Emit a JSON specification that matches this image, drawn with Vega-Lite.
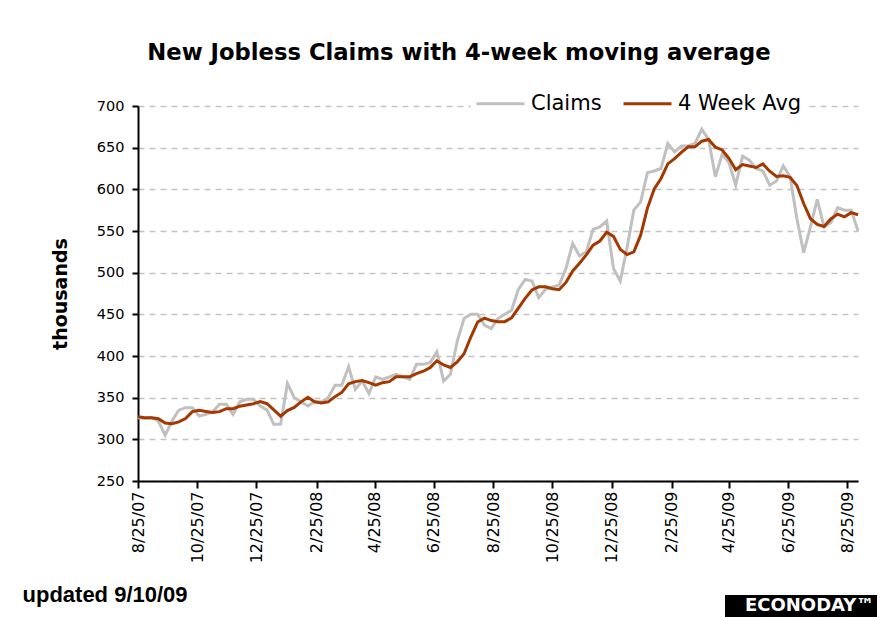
{
  "$schema": "https://vega.github.io/schema/vega-lite/v6.json",
  "width": 720,
  "height": 375,
  "autosize": {"type": "none"},
  "padding": {"left": 138, "top": 106, "right": 37, "bottom": 136},
  "background": "white",
  "title": {"text": "New Jobless Claims with 4-week moving average", "font": "DejaVu Sans", "fontSize": 22.7, "fontWeight": "bold", "color": "#000000", "anchor": "middle", "frame": "group", "dx": -39, "offset": 9},
  "data": {"values": [
    {"week": "2007-08-25", "claims": 326, "avg": 327},
    {"week": "2007-09-01", "claims": 325, "avg": 326},
    {"week": "2007-09-08", "claims": 326, "avg": 326},
    {"week": "2007-09-15", "claims": 322, "avg": 324.75},
    {"week": "2007-09-22", "claims": 305, "avg": 319.5},
    {"week": "2007-09-29", "claims": 322, "avg": 318.75},
    {"week": "2007-10-06", "claims": 335, "avg": 321},
    {"week": "2007-10-13", "claims": 338, "avg": 325},
    {"week": "2007-10-20", "claims": 338, "avg": 333.25},
    {"week": "2007-10-27", "claims": 328, "avg": 334.75},
    {"week": "2007-11-03", "claims": 330, "avg": 333.5},
    {"week": "2007-11-10", "claims": 333, "avg": 332.25},
    {"week": "2007-11-17", "claims": 342, "avg": 333.25},
    {"week": "2007-11-24", "claims": 342, "avg": 336.75},
    {"week": "2007-12-01", "claims": 330, "avg": 336.75},
    {"week": "2007-12-08", "claims": 345, "avg": 339.75},
    {"week": "2007-12-15", "claims": 348, "avg": 341.25},
    {"week": "2007-12-22", "claims": 348, "avg": 342.75},
    {"week": "2007-12-29", "claims": 340, "avg": 345.25},
    {"week": "2008-01-05", "claims": 335, "avg": 342.75},
    {"week": "2008-01-12", "claims": 318, "avg": 335.25},
    {"week": "2008-01-19", "claims": 318, "avg": 327.75},
    {"week": "2008-01-26", "claims": 367, "avg": 334.5},
    {"week": "2008-02-02", "claims": 350, "avg": 338.25},
    {"week": "2008-02-09", "claims": 345, "avg": 345},
    {"week": "2008-02-16", "claims": 340, "avg": 350.5},
    {"week": "2008-02-23", "claims": 345, "avg": 345},
    {"week": "2008-03-01", "claims": 345, "avg": 343.75},
    {"week": "2008-03-08", "claims": 350, "avg": 345},
    {"week": "2008-03-15", "claims": 365, "avg": 351.25},
    {"week": "2008-03-22", "claims": 365, "avg": 356.25},
    {"week": "2008-03-29", "claims": 387, "avg": 366.75},
    {"week": "2008-04-05", "claims": 360, "avg": 369.25},
    {"week": "2008-04-12", "claims": 370, "avg": 370.5},
    {"week": "2008-04-19", "claims": 355, "avg": 368},
    {"week": "2008-04-26", "claims": 375, "avg": 365},
    {"week": "2008-05-03", "claims": 372, "avg": 368},
    {"week": "2008-05-10", "claims": 375, "avg": 369.25},
    {"week": "2008-05-17", "claims": 378, "avg": 375},
    {"week": "2008-05-24", "claims": 375, "avg": 375},
    {"week": "2008-05-31", "claims": 372, "avg": 375},
    {"week": "2008-06-07", "claims": 390, "avg": 378.75},
    {"week": "2008-06-14", "claims": 390, "avg": 381.75},
    {"week": "2008-06-21", "claims": 392, "avg": 386},
    {"week": "2008-06-28", "claims": 405, "avg": 394.25},
    {"week": "2008-07-05", "claims": 370, "avg": 389.25},
    {"week": "2008-07-12", "claims": 378, "avg": 386.25},
    {"week": "2008-07-19", "claims": 418, "avg": 392.75},
    {"week": "2008-07-26", "claims": 445, "avg": 402.75},
    {"week": "2008-08-02", "claims": 450, "avg": 422.75},
    {"week": "2008-08-09", "claims": 450, "avg": 440.75},
    {"week": "2008-08-16", "claims": 437, "avg": 445.5},
    {"week": "2008-08-23", "claims": 433, "avg": 442.5},
    {"week": "2008-08-30", "claims": 445, "avg": 441.25},
    {"week": "2008-09-06", "claims": 450, "avg": 441.25},
    {"week": "2008-09-13", "claims": 455, "avg": 445.75},
    {"week": "2008-09-20", "claims": 480, "avg": 457.5},
    {"week": "2008-09-27", "claims": 492, "avg": 469.25},
    {"week": "2008-10-04", "claims": 490, "avg": 479.25},
    {"week": "2008-10-11", "claims": 470, "avg": 483},
    {"week": "2008-10-18", "claims": 480, "avg": 483},
    {"week": "2008-10-25", "claims": 483, "avg": 480.75},
    {"week": "2008-11-01", "claims": 485, "avg": 479.5},
    {"week": "2008-11-08", "claims": 505, "avg": 488.25},
    {"week": "2008-11-15", "claims": 535, "avg": 502},
    {"week": "2008-11-22", "claims": 520, "avg": 511.25},
    {"week": "2008-11-29", "claims": 525, "avg": 521.25},
    {"week": "2008-12-06", "claims": 552, "avg": 533},
    {"week": "2008-12-13", "claims": 555, "avg": 538},
    {"week": "2008-12-20", "claims": 562, "avg": 548.5},
    {"week": "2008-12-27", "claims": 505, "avg": 543.5},
    {"week": "2009-01-03", "claims": 490, "avg": 528},
    {"week": "2009-01-10", "claims": 530, "avg": 521.75},
    {"week": "2009-01-17", "claims": 575, "avg": 525},
    {"week": "2009-01-24", "claims": 585, "avg": 545},
    {"week": "2009-01-31", "claims": 620, "avg": 577.5},
    {"week": "2009-02-07", "claims": 622, "avg": 600.5},
    {"week": "2009-02-14", "claims": 625, "avg": 613},
    {"week": "2009-02-21", "claims": 655, "avg": 630.5},
    {"week": "2009-02-28", "claims": 645, "avg": 636.75},
    {"week": "2009-03-07", "claims": 652, "avg": 644.25},
    {"week": "2009-03-14", "claims": 652, "avg": 651},
    {"week": "2009-03-21", "claims": 655, "avg": 651},
    {"week": "2009-03-28", "claims": 672, "avg": 657.75},
    {"week": "2009-04-04", "claims": 660, "avg": 659.75},
    {"week": "2009-04-11", "claims": 615, "avg": 650.5},
    {"week": "2009-04-18", "claims": 642, "avg": 647.25},
    {"week": "2009-04-25", "claims": 632, "avg": 637.25},
    {"week": "2009-05-02", "claims": 605, "avg": 623.5},
    {"week": "2009-05-09", "claims": 640, "avg": 629.75},
    {"week": "2009-05-16", "claims": 635, "avg": 628},
    {"week": "2009-05-23", "claims": 625, "avg": 626.25},
    {"week": "2009-05-30", "claims": 622, "avg": 630.5},
    {"week": "2009-06-06", "claims": 605, "avg": 621.75},
    {"week": "2009-06-13", "claims": 610, "avg": 615.5},
    {"week": "2009-06-20", "claims": 628, "avg": 616.25},
    {"week": "2009-06-27", "claims": 615, "avg": 614.5},
    {"week": "2009-07-04", "claims": 565, "avg": 604.5},
    {"week": "2009-07-11", "claims": 524, "avg": 583},
    {"week": "2009-07-18", "claims": 555, "avg": 564.75},
    {"week": "2009-07-25", "claims": 588, "avg": 558},
    {"week": "2009-08-01", "claims": 555, "avg": 555.5},
    {"week": "2009-08-08", "claims": 560, "avg": 564.5},
    {"week": "2009-08-15", "claims": 578, "avg": 570.25},
    {"week": "2009-08-22", "claims": 575, "avg": 567},
    {"week": "2009-08-29", "claims": 575, "avg": 572},
    {"week": "2009-09-05", "claims": 550, "avg": 569.5}
  ]},
  "layer": [
    {
      "mark": {"type": "line", "strokeWidth": 3, "interpolate": "linear"},
      "encoding": {
        "x": {"field": "week", "type": "temporal", "scale": {"type": "utc", "nice": false}, "title": "updated 9/10/09",
          "axis": {"values": [
            {"year": 2007, "month": 8, "date": 25, "utc": true},
            {"year": 2007, "month": 10, "date": 25, "utc": true},
            {"year": 2007, "month": 12, "date": 25, "utc": true},
            {"year": 2008, "month": 2, "date": 25, "utc": true},
            {"year": 2008, "month": 4, "date": 25, "utc": true},
            {"year": 2008, "month": 6, "date": 25, "utc": true},
            {"year": 2008, "month": 8, "date": 25, "utc": true},
            {"year": 2008, "month": 10, "date": 25, "utc": true},
            {"year": 2008, "month": 12, "date": 25, "utc": true},
            {"year": 2009, "month": 2, "date": 25, "utc": true},
            {"year": 2009, "month": 4, "date": 25, "utc": true},
            {"year": 2009, "month": 6, "date": 25, "utc": true},
            {"year": 2009, "month": 8, "date": 25, "utc": true}
          ], "format": "%-m/%-d/%y", "labelAngle": -90}},
        "y": {"field": "claims", "type": "quantitative", "title": "thousands", "scale": {"domain": [250, 700], "nice": false, "zero": false},
          "axis": {"values": [250, 300, 350, 400, 450, 500, 550, 600, 650, 700]}},
        "color": {"datum": "Claims", "type": "nominal", "scale": {"domain": ["Claims", "4 Week Avg"], "range": ["#c0c0c0", "#a33800"]},
          "legend": {"orient": "none", "legendX": 333, "legendY": -32, "direction": "horizontal", "title": null, "fillColor": "white", "padding": 4,
            "symbolType": "stroke", "symbolSize": 2304, "symbolStrokeWidth": 3, "labelFont": "DejaVu Sans", "labelFontSize": 21, "labelColor": "#000000", "labelOffset": 5, "columnPadding": 15}}
      }
    },
    {
      "mark": {"type": "line", "strokeWidth": 3, "interpolate": "linear"},
      "encoding": {
        "x": {"field": "week", "type": "temporal"},
        "y": {"field": "avg", "type": "quantitative", "title": "thousands"},
        "color": {"datum": "4 Week Avg", "type": "nominal"}
      }
    },
    {
      "data": {"values": [{"brand": "ECONODAY™"}]},
      "mark": {"type": "point", "opacity": 0},
      "encoding": {
        "shape": {"field": "brand", "type": "nominal",
          "legend": {"orient": "none", "legendX": 587, "legendY": 489, "title": null, "fillColor": "black", "padding": 2,
            "symbolSize": 0, "symbolOpacity": 0, "symbolStrokeWidth": 0, "labelFont": "DejaVu Sans", "labelFontSize": 18, "labelFontWeight": "bold", "labelColor": "white", "labelOffset": 0}}
      }
    }
  ],
  "config": {
    "view": {"stroke": null},
    "axisX": {"domainColor": "#000000", "domainWidth": 2, "tickColor": "#000000", "tickWidth": 2, "tickSize": 7, "grid": false,
      "labelFont": "DejaVu Sans", "labelFontSize": 16, "labelColor": "#000000", "labelPadding": 3, "labelFlush": false, "labelOverlap": false, "labelBound": false,
      "titleFont": "Liberation Sans", "titleFontSize": 22, "titleFontWeight": "bold", "titleColor": "#000000", "titleX": -116, "titleY": 120, "titleAlign": "left", "titleBaseline": "alphabetic"},
    "axisY": {"domainColor": "#000000", "domainWidth": 2, "tickColor": "#000000", "tickWidth": 2, "tickSize": 6, "grid": true, "gridColor": "#c4c4c4", "gridDash": [6, 5], "gridWidth": 1.5,
      "labelFont": "DejaVu Sans", "labelFontSize": 14.5, "labelColor": "#000000", "labelPadding": 8,
      "titleFont": "DejaVu Sans", "titleFontSize": 19, "titleFontWeight": "bold", "titleColor": "#000000", "titlePadding": 26}
  }
}
